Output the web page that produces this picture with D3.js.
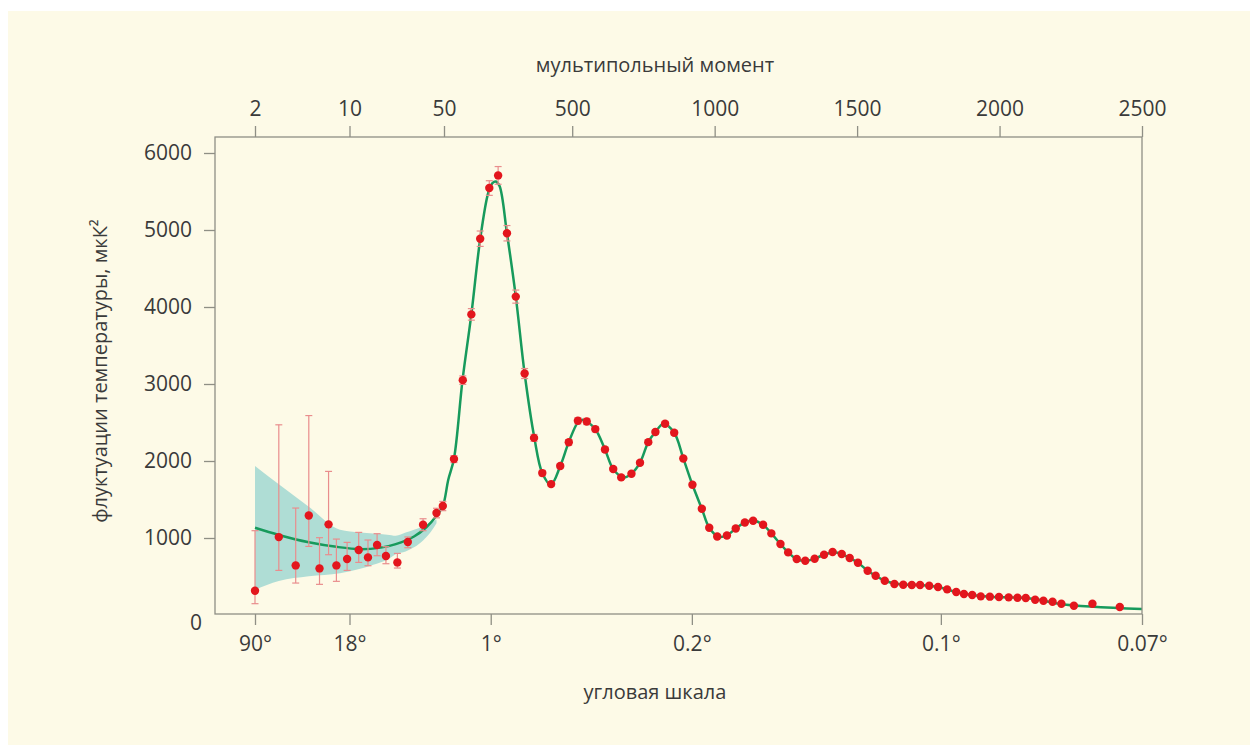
<!DOCTYPE html>
<html>
<head>
<meta charset="utf-8">
<script src="https://cdn.jsdelivr.net/npm/d3@7"></script>
<style>
  body { margin: 0; background: #fff; }
  text { font-family: "Open Sans", sans-serif; fill: #3a3a3a; }
</style>
</head>
<body>
<div id="app"></div>
<script>
// low multipoles: value with asymmetric error bars
const lowL = [2, 3, 4, 5, 6, 7, 8, 9.6, 11.7, 13.7, 16, 18.6, 22.6, 27, 35, 44, 49];
const lowD = [315, 1012, 644, 1293, 605, 1177, 644, 727, 844, 748, 909, 766, 683, 948, 1173, 1324, 1415];
const lowMin = [147, 579, 415, 891, 398, 783, 437, 579, 683, 640, 770, 666, 610, 874, 1095, 1262, 1355];
const lowMax = [1095, 2470, 1389, 2590, 1004, 1865, 986, 943, 1073, 974, 1056, 887, 800, 1013, 1250, 1386, 1475];

// binned high multipoles
const highL = [85, 116, 146, 177, 209, 240, 271, 302, 333, 366,
  395, 426, 458, 488, 520, 551, 581, 615, 644, 672,
  708, 738, 767, 792, 826, 858, 890, 922, 955, 981,
  1009, 1043, 1074, 1106, 1135, 1170, 1199, 1231, 1258, 1288,
  1318, 1351, 1384, 1414, 1446, 1474, 1503, 1537, 1565, 1597,
  1631, 1662, 1692, 1721, 1753, 1784, 1816, 1848, 1875, 1904,
  1934, 1966, 1998, 2032, 2063, 2092, 2125, 2154, 2186, 2217,
  2261, 2326, 2422];
const highD = [2025, 3050, 3904, 4887, 5545, 5709, 4958, 4135, 3136, 2300,
  1843, 1700, 1936, 2243, 2522, 2513, 2414, 2150, 1896, 1787,
  1834, 1978, 2245, 2376, 2484, 2367, 2033, 1691, 1380, 1133,
  1020, 1033, 1124, 1202, 1225, 1172, 1060, 922, 813, 727,
  705, 731, 783, 818, 792, 740, 679, 575, 510, 445,
  403, 393, 390, 390, 380, 364, 333, 298, 272, 259,
  242, 238, 234, 229, 225, 221, 199, 186, 173, 147,
  121, 147, 104];
const highErr = [45, 55, 75, 100, 95, 115, 100, 85, 65, 45,
  35, 30, 30, 35, 40, 40, 35, 30, 25, 25,
  25, 25, 30, 30, 30, 30, 25, 25, 20, 20,
  18, 18, 18, 18, 18, 18, 18, 16, 16, 15,
  15, 15, 15, 15, 15, 15, 14, 14, 14, 14,
  13, 13, 13, 13, 13, 13, 12, 12, 12, 12,
  12, 12, 12, 12, 12, 12, 12, 12, 12, 12,
  12, 12, 12];

// best-fit model curve
const modelL = [2, 3, 5, 8, 12, 17, 22, 30, 37, 44, 49, 65, 85, 115, 146, 177, 205, 220, 232, 245,
  271, 302, 333, 367, 395, 425, 458, 488, 520, 537, 551, 581, 615, 644, 680, 708,
  738, 767, 792, 820, 858, 890, 922, 955, 981, 1015, 1043, 1074, 1106, 1135, 1170, 1199,
  1231, 1258, 1288, 1320, 1351, 1384, 1420, 1446, 1474, 1503, 1537, 1565, 1597, 1650,
  1720, 1784, 1848, 1904, 1966, 2092, 2154, 2217, 2500];
const modelD = [1133, 1040, 945, 885, 855, 875, 920, 1020, 1140, 1290, 1415, 1757, 2030, 3050, 3904, 4880, 5480, 5610, 5630, 5570,
  4958, 4135, 3136, 2305, 1843, 1692, 1934, 2245, 2500, 2535, 2513, 2414, 2150, 1896, 1785, 1834,
  1978, 2245, 2376, 2480, 2367, 2033, 1691, 1380, 1133, 1015, 1033, 1124, 1202, 1228, 1172, 1060,
  922, 813, 727, 703, 731, 783, 815, 792, 740, 679, 575, 510, 445, 398,
  390, 364, 298, 259, 238, 221, 186, 140, 78];

// cosmic variance band
const bandL = [2, 3, 5, 8.5, 12, 15, 19, 22, 26, 30, 35, 40, 44];
const bandLo = [328, 440, 502, 543, 600, 653, 718, 790, 826, 880, 969, 1080, 1190];
const bandHi = [1935, 1698, 1405, 1108, 1073, 1060, 1043, 1030, 1070, 1108, 1150, 1200, 1240];

const multipoleTicks = [2, 10, 50, 500, 1000, 1500, 2000, 2500];
const angleL = [2, 10, 214, 920, 1794, 2500];
const angleLabels = ['90°', '18°', '1°', '0.2°', '0.1°', '0.07°'];
const yTicks = [1000, 2000, 3000, 4000, 5000, 6000];

const width = 1250, height = 745;
const frame = { left: 215, right: 1142, top: 137, bottom: 614 };

const svg = d3.select('#app')
  .append('svg')
  .attr('width', width)
  .attr('height', height);

svg.append('rect')
  .attr('x', 8)
  .attr('y', 11)
  .attr('width', width - 8)
  .attr('height', height - 11)
  .attr('fill', '#fdfae7');

// log for l <= 50, linear above
const xLog = d3.scaleLog().domain([2, 50]).range([255, 444]);
const xLin = d3.scaleLinear().domain([50, 2500]).range([444, frame.right]);
const x = l => l <= 50 ? xLog(l) : xLin(l);
const y = d3.scaleLinear().domain([0, 6000]).range([615, 153]);

const band = bandL.map((l, i) => ({ l, lo: bandLo[i], hi: bandHi[i] }));
svg.append('path')
  .datum(band)
  .attr('fill', '#afddd5')
  .attr('d', d3.area()
    .x(d => x(d.l))
    .y0(d => y(d.lo))
    .y1(d => y(d.hi))
    .curve(d3.curveMonotoneX));

const model = modelL.map((l, i) => [x(l), y(modelD[i])]);
svg.append('path')
  .datum(model)
  .attr('fill', 'none')
  .attr('stroke', '#179a5c')
  .attr('stroke-width', 2.5)
  .attr('d', d3.line().curve(d3.curveCatmullRom.alpha(0.5)));

const points = lowL.map((l, i) => ({ l, d: lowD[i], lo: lowMin[i], hi: lowMax[i] }))
  .concat(highL.map((l, i) => ({ l, d: highD[i], lo: highD[i] - highErr[i], hi: highD[i] + highErr[i] })));

const errColor = '#e98d8d';
const errs = svg.append('g')
  .attr('stroke', errColor)
  .attr('stroke-width', 1.2);

errs.selectAll('line.bar')
  .data(points)
  .join('line')
  .attr('class', 'bar')
  .attr('x1', d => x(d.l))
  .attr('x2', d => x(d.l))
  .attr('y1', d => y(d.lo))
  .attr('y2', d => y(d.hi));

errs.selectAll('line.capHi')
  .data(points)
  .join('line')
  .attr('class', 'capHi')
  .attr('x1', d => x(d.l) - 3.5)
  .attr('x2', d => x(d.l) + 3.5)
  .attr('y1', d => y(d.hi))
  .attr('y2', d => y(d.hi));

errs.selectAll('line.capLo')
  .data(points)
  .join('line')
  .attr('class', 'capLo')
  .attr('x1', d => x(d.l) - 3.5)
  .attr('x2', d => x(d.l) + 3.5)
  .attr('y1', d => y(d.lo))
  .attr('y2', d => y(d.lo));

svg.append('g')
  .selectAll('circle')
  .data(points)
  .join('circle')
  .attr('cx', d => x(d.l))
  .attr('cy', d => y(d.d))
  .attr('r', 4.2)
  .attr('fill', '#e3161d');

// frame
svg.append('rect')
  .attr('x', frame.left)
  .attr('y', frame.top)
  .attr('width', frame.right - frame.left)
  .attr('height', frame.bottom - frame.top)
  .attr('fill', 'none')
  .attr('stroke', '#8f8f85')
  .attr('stroke-width', 1.3);

const styleAxis = (g) => {
  g.select('.domain').remove();
  g.selectAll('.tick line').attr('stroke', '#8f8f85').attr('stroke-width', 1.3);
  g.selectAll('.tick text')
    .attr('font-family', '"Open Sans", sans-serif')
    .attr('font-size', 21)
    .attr('fill', '#3a3a3a');
};

// top: multipole moment
svg.append('g')
  .attr('transform', `translate(0,${frame.top})`)
  .call(d3.axisTop(xLog).tickValues(multipoleTicks.filter(v => v <= 50)).tickFormat(d3.format('d')).tickSize(11).tickPadding(10))
  .call(styleAxis);
svg.append('g')
  .attr('transform', `translate(0,${frame.top})`)
  .call(d3.axisTop(xLin).tickValues(multipoleTicks.filter(v => v > 50)).tickFormat(d3.format('d')).tickSize(11).tickPadding(10))
  .call(styleAxis);

// bottom: angular scale
const angleText = l => angleLabels[angleL.indexOf(l)];
svg.append('g')
  .attr('transform', `translate(0,${frame.bottom})`)
  .call(d3.axisBottom(xLog).tickValues(angleL.filter(v => v <= 50)).tickFormat(angleText).tickSize(11).tickPadding(11))
  .call(styleAxis);
svg.append('g')
  .attr('transform', `translate(0,${frame.bottom})`)
  .call(d3.axisBottom(xLin).tickValues(angleL.filter(v => v > 50)).tickFormat(angleText).tickSize(11).tickPadding(11))
  .call(styleAxis);

// left
svg.append('g')
  .attr('transform', `translate(${frame.left},0)`)
  .call(d3.axisLeft(y).tickValues(yTicks).tickFormat(d3.format('d')).tickSize(11).tickPadding(12))
  .call(styleAxis);

svg.append('text')
  .attr('x', 202)
  .attr('y', 630)
  .attr('text-anchor', 'end')
  .attr('font-size', 21)
  .text('0');

svg.append('text')
  .attr('x', 655)
  .attr('y', 72)
  .attr('text-anchor', 'middle')
  .attr('font-size', 20)
  .text('мультипольный момент');

svg.append('text')
  .attr('x', 655)
  .attr('y', 699)
  .attr('text-anchor', 'middle')
  .attr('font-size', 20)
  .text('угловая шкала');

svg.append('text')
  .attr('transform', 'translate(107,371) rotate(-90)')
  .attr('text-anchor', 'middle')
  .attr('font-size', 20)
  .text('флуктуации температуры, мкК²');
</script>
</body>
</html>
